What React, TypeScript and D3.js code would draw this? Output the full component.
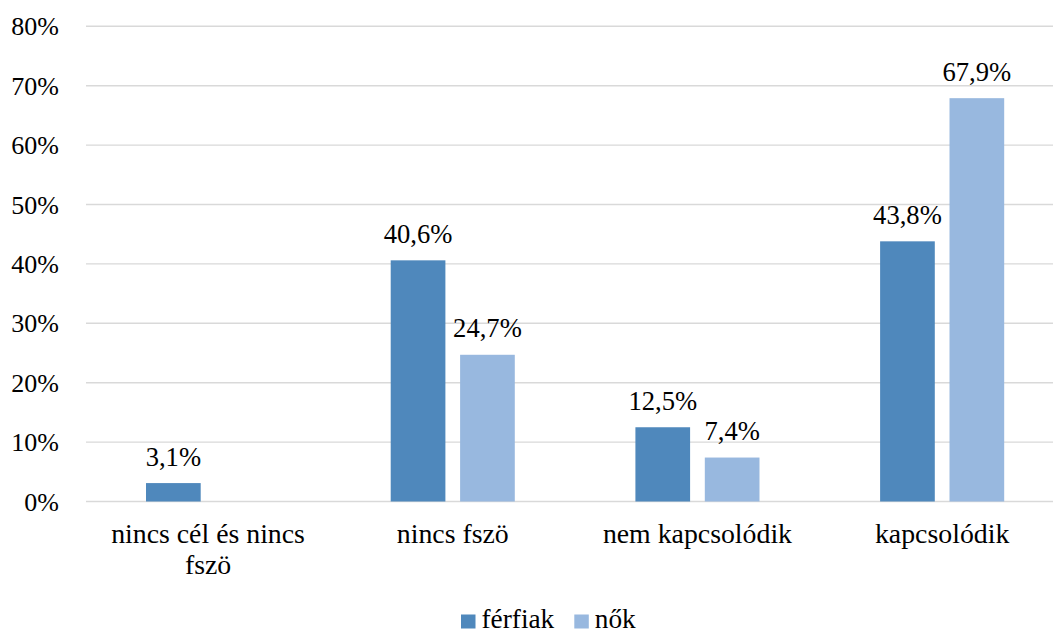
import React from "react";
import * as d3 from "d3";

// Categories and series values (percent)
const categories = ["nincs cél és nincs fszö", "nincs fszö", "nem kapcsolódik", "kapcsolódik"];
const categoryLines = [["nincs cél és nincs", "fszö"], ["nincs fszö"], ["nem kapcsolódik"], ["kapcsolódik"]];
const seriesNames = ["férfiak", "nők"];
const ferfiak = [3.1, 40.6, 12.5, 43.8];
const nok: (number | null)[] = [null, 24.7, 7.4, 67.9];
const yTicks = [0, 10, 20, 30, 40, 50, 60, 70, 80];

const colors = ["#4F88BC", "#98B8DF"];
const W = 1053;
const H = 633;
const FONT = "Liberation Serif";

const fmt = (v: number) => v.toFixed(1).replace(".", ",") + "%";

export default function App() {
  const x = d3.scaleBand<string>().domain(categories).range([85.7, 1064.5]).padding(0);
  const xs = d3
    .scaleBand<string>()
    .domain(seriesNames)
    .range([0, x.bandwidth()])
    .paddingInner(0.212)
    .paddingOuter(0.869);
  const y = d3.scaleLinear().domain([0, 80]).range([501.5, 26.3]);

  const series = [ferfiak, nok];
  const txt = (fs: number) => ({ fontFamily: FONT, fontSize: fs, fill: "#000" } as React.CSSProperties);

  return (
    <svg
      width={W}
      height={H}
      style={{ position: "absolute", left: 0, top: 0, background: "#fff" }}
    >
      {/* horizontal gridlines */}
      {yTicks.map((t) => (
        <line key={t} x1={86} x2={W} y1={y(t)} y2={y(t)} stroke="#D9D9D9" strokeWidth={1.4} />
      ))}
      {/* y axis labels */}
      {yTicks.map((t) => (
        <text key={t} x={59} y={y(t) + 9} textAnchor="end" style={txt(26)}>
          {`${t}%`}
        </text>
      ))}
      {/* bars and value labels */}
      {series.map((vals, si) =>
        vals.map((v, ci) => {
          if (v == null) return null;
          const bx = (x(categories[ci]) ?? 0) + (xs(seriesNames[si]) ?? 0);
          const bw = xs.bandwidth();
          return (
            <g key={`${si}-${ci}`}>
              <rect x={bx} y={y(v)} width={bw} height={y(0) - y(v)} fill={colors[si]} />
              <text x={bx + bw / 2} y={y(v) - 17.5} textAnchor="middle" style={txt(26.6)}>
                {fmt(v)}
              </text>
            </g>
          );
        })
      )}
      {/* category labels */}
      {categories.map((c, ci) => {
        const cx = (x(c) ?? 0) + x.bandwidth() / 2;
        return (
          <text key={c} textAnchor="middle" style={txt(27.8)}>
            {categoryLines[ci].map((line, li) => (
              <tspan key={li} x={cx} y={543 + li * 31}>
                {line}
              </tspan>
            ))}
          </text>
        );
      })}
      {/* legend */}
      {seriesNames.map((s, si) => {
        const lx = [461, 574.3][si];
        return (
          <g key={s}>
            <rect x={lx} y={614.5} width={14.5} height={14} fill={colors[si]} />
            <text x={lx + 20.5} y={628} style={txt(27.3)}>
              {s}
            </text>
          </g>
        );
      })}
    </svg>
  );
}
